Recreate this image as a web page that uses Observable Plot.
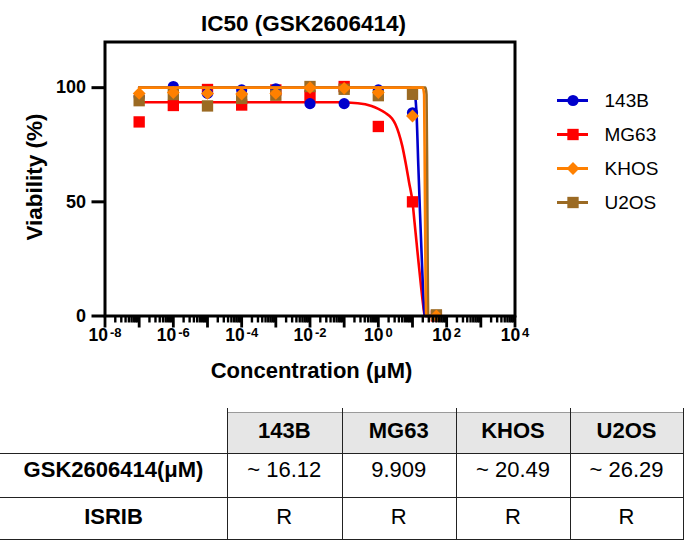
<!DOCTYPE html>
<html>
<head>
<meta charset="utf-8">
<script src="https://cdn.jsdelivr.net/npm/d3@7"></script>
<script src="https://cdn.jsdelivr.net/npm/@observablehq/plot@0.6"></script>
<style>
  html, body { margin: 0; padding: 0; background: #fff; }
  #wrap { position: relative; width: 685px; height: 541px; overflow: hidden; font-family: "Liberation Sans", Arial, Helvetica, sans-serif; color: #000; }
  #wrap svg { position: absolute; overflow: visible; }
  .cell { position: absolute; background: #e6e6e6; }
  .line { position: absolute; background: #222; }
  .txt { position: absolute; transform: translate(-50%, -50%); line-height: 1; font-size: 22px; white-space: nowrap; }
</style>
</head>
<body>
<div id="wrap"></div>
<script>
// ---------------- data ----------------
const concentrations = [1e-7, 1e-6, 1e-5, 1e-4, 1e-3, 1e-2, 1e-1, 1, 10, 50]; // µM
const seriesNames = ["143B", "MG63", "KHOS", "U2OS"];
const seriesColors = ["#0000cc", "#ff0000", "#ff8000", "#9b6a23"];
const seriesSymbols = ["circle", "square", "diamond2", "square"];

const viability143B = [96, 100.5, 97.5, 99, 99.5, 93, 93, 99, 89, 0];
const viabilityMG63 = [85, 92.2, 99.2, 92.4, 99, 96.4, 100.5, 83, 50, 0];
const viabilityKHOS = [97.5, 97.9, 97.5, 97.2, 97.5, 100, 99.7, 97.9, 87.6, 0];
const viabilityU2OS = [94.3, 97, 92, 95.3, 96.7, 100.5, 99.3, 96.5, 97.1, 0.5];

// fitted curves (log10 concentration, viability)
const fit143BLogX = [-7, 0.9, 1.0, 1.07, 1.12, 1.17, 1.22, 1.28, 1.34, 1.36, 1.7];
const fit143BY    = [100, 100, 99.5, 97, 88, 66, 45, 22, 3, 0, 0];
const fitMG63LogX = [-7, -1.2, -0.6, -0.2, 0, 0.2, 0.4, 0.5, 0.6, 0.7, 0.8, 0.9, 1.0, 1.06, 1.12, 1.18, 1.25, 1.31, 1.36, 1.7];
const fitMG63Y    = [93.6, 93.6, 93.2, 92, 90.7, 89, 86.5, 84, 80, 74.5, 67, 58.5, 50, 41, 32, 23, 13, 5, 0, 0];
const fitKHOSLogX = [-7, 1.3, 1.34, 1.36, 1.38, 1.40, 1.7];
const fitKHOSY    = [100, 100, 97, 60, 20, 0, 0];
const fitU2OSLogX = [-7, 1.38, 1.41, 1.43, 1.445, 1.46, 1.7];
const fitU2OSY    = [100, 100, 97, 60, 20, 0, 0];

const yTickValues = [0, 50, 100];
const xLabelExponents = [-8, -6, -4, -2, 0, 2, 4];
const xDecadeExponents = [-8, -7, -6, -5, -4, -3, -2, -1, 0, 1, 2, 3, 4];

const titleText = "IC50 (GSK2606414)";
const xTitle = "Concentration (μM)";
const yTitle = "Viability (%)";

const tableColumns = ["143B", "MG63", "KHOS", "U2OS"];
const tableRowLabels = ["GSK2606414(μM)", "ISRIB"];
const tableGSK = ["~ 16.12", "9.909", "~ 20.49", "~ 26.29"];
const tableISRIB = ["R", "R", "R", "R"];

// ---------------- build ----------------
const viabilities = [viability143B, viabilityMG63, viabilityKHOS, viabilityU2OS];
const fits = [[fit143BLogX, fit143BY], [fitMG63LogX, fitMG63Y], [fitKHOSLogX, fitKHOSY], [fitU2OSLogX, fitU2OSY]];

const points = seriesNames.map((s, i) => concentrations.map((c, j) => ({series: s, conc: c, v: viabilities[i][j]})));
const curves = seriesNames.map((s, i) => fits[i][0].map((lx, j) => ({series: s, conc: Math.pow(10, lx), v: fits[i][1][j]})));

const minorTicks = [];
for (const e of xDecadeExponents.slice(0, -1)) for (let m = 2; m <= 9; m++) minorTicks.push(m * Math.pow(10, e));
const decadeTicks = xDecadeExponents.map(e => Math.pow(10, e));
const labelTicks = xLabelExponents.map(e => Math.pow(10, e));

const dotR = {circle: 5.6, square: 6.4, diamond2: 5.8};
// drawing order bottom -> top: MG63, 143B, U2OS, KHOS
const order = [1, 0, 3, 2];
const seriesMarks = order.flatMap(i => [
  Plot.line(curves[i], {x: "conc", y: "v", stroke: seriesColors[i], strokeWidth: 2.6, curve: "monotone-x"}),
  Plot.dot(points[i], {x: "conc", y: "v", fill: seriesColors[i], symbol: seriesSymbols[i], r: dotR[seriesSymbols[i]], stroke: "none"})
]);

const font = "'Liberation Sans', Arial, Helvetica, sans-serif";

const chart = Plot.plot({
  width: 685,
  height: 400,
  marginLeft: 104.5,
  marginRight: 170.5,
  marginTop: 41.5,
  marginBottom: 84.5,
  style: {fontFamily: font, color: "black", background: "transparent", overflow: "visible"},
  x: {type: "log", domain: [1e-8, 1e4], label: null},
  y: {domain: [0, 120], label: null},
  marks: [
    ...seriesMarks,
    Plot.frame({stroke: "black", strokeWidth: 3}),
    Plot.axisY(yTickValues, {tickSize: 13, tickPadding: 6, strokeWidth: 3, fontSize: 18, fontWeight: "bold", tickFormat: d => String(d), label: null}),
    Plot.axisX(minorTicks, {tickSize: 7, strokeWidth: 2.4, tickFormat: () => "", label: null}),
    Plot.axisX(decadeTicks, {tickSize: 12, strokeWidth: 2.8, tickFormat: () => "", label: null}),
    Plot.axisX(labelTicks, {tickSize: 0, tickPadding: 13, fontSize: 17.5, fontWeight: "bold",
      tickFormat: d => "10^" + Math.round(Math.log10(d)), label: null}),
    Plot.text([titleText], {frameAnchor: "top", textAnchor: "middle", dy: -27.3, dx: -6.5, fontSize: 22.5, fontWeight: "bold", fill: "black"}),
    Plot.text([xTitle], {frameAnchor: "bottom", textAnchor: "middle", dy: 61.5, dx: 1.5, fontSize: 22, fontWeight: "bold", fill: "black"}),
    Plot.text([yTitle], {frameAnchor: "left", textAnchor: "middle", dx: -70.5, dy: -2, rotate: -90, fontSize: 22.5, fontWeight: "bold", fill: "black"})
  ]
});

// superscript exponents on x tick labels
d3.select(chart).selectAll("text").each(function () {
  const m = /^10\^(-?\d+)$/.exec(this.textContent);
  if (!m) return;
  const t = d3.select(this);
  t.text(null);
  t.append("tspan").text("10");
  t.append("tspan").attr("dx", 2).attr("dy", -4.5).attr("font-size", 13).text(m[1]);
});

chart.style.left = "0px";
chart.style.top = "0px";

const legend = Plot.plot({
  width: 145,
  height: 180,
  margin: 0,
  style: {fontFamily: font, color: "black", background: "transparent", overflow: "visible"},
  x: {domain: [0, 1], range: [17, 48], axis: null},
  y: {type: "point", domain: seriesNames, range: [39, 143], padding: 0, axis: null},
  marks: seriesNames.flatMap((s, i) => [
    Plot.ruleY([s], {y: d => d, x1: 0, x2: 1, stroke: seriesColors[i], strokeWidth: 3}),
    Plot.dot([s], {x: 0.5, y: d => d, fill: seriesColors[i], symbol: seriesSymbols[i], r: dotR[seriesSymbols[i]], stroke: "none"}),
    Plot.text([s], {x: 1, y: d => d, text: d => d, dx: 16, textAnchor: "start", fontSize: 19, fill: "black"})
  ])
});
legend.style.left = "540px";
legend.style.top = "60px";

const wrap = document.getElementById("wrap");
wrap.appendChild(chart);
wrap.appendChild(legend);

// ---------------- table ----------------
const colX = [0, 227, 341.5, 456, 570, 683];
const rowY = [412, 453, 497, 540];
const textY = [431, 470, 517];
function addDiv(cls, l, t, w, h, extra) {
  const d = document.createElement("div");
  d.className = cls;
  Object.assign(d.style, {left: l + "px", top: t + "px", width: w + "px", height: h + "px"}, extra || {});
  wrap.appendChild(d);
  return d;
}
function addText(str, cx, cy, bold) {
  const d = document.createElement("div");
  d.className = "txt";
  d.textContent = str;
  d.style.left = cx + "px";
  d.style.top = cy + "px";
  d.style.fontWeight = bold ? "bold" : "normal";
  wrap.appendChild(d);
}
tableColumns.forEach((c, i) => {
  addDiv("cell", colX[i + 1], rowY[0], colX[i + 2] - colX[i + 1], rowY[1] - rowY[0]);
  addText(c, (colX[i + 1] + colX[i + 2]) / 2, textY[0], true);
});
addDiv("line", colX[1], rowY[0], colX[5] - colX[1], 1, {background: "#9a9a9a"});
[rowY[1], rowY[2], rowY[3] - 1].forEach(y => addDiv("line", 0, y, colX[5] + 1, 1.2));
colX.slice(1).forEach(x => addDiv("line", x, 408, 1.2, 132));
const bodyRows = [tableGSK, tableISRIB];
tableRowLabels.forEach((lab, r) => {
  addText(lab, (colX[0] + colX[1]) / 2, textY[r + 1], true);
  bodyRows[r].forEach((v, i) => addText(v, (colX[i + 1] + colX[i + 2]) / 2, textY[r + 1], false));
});
</script>
</body>
</html>
